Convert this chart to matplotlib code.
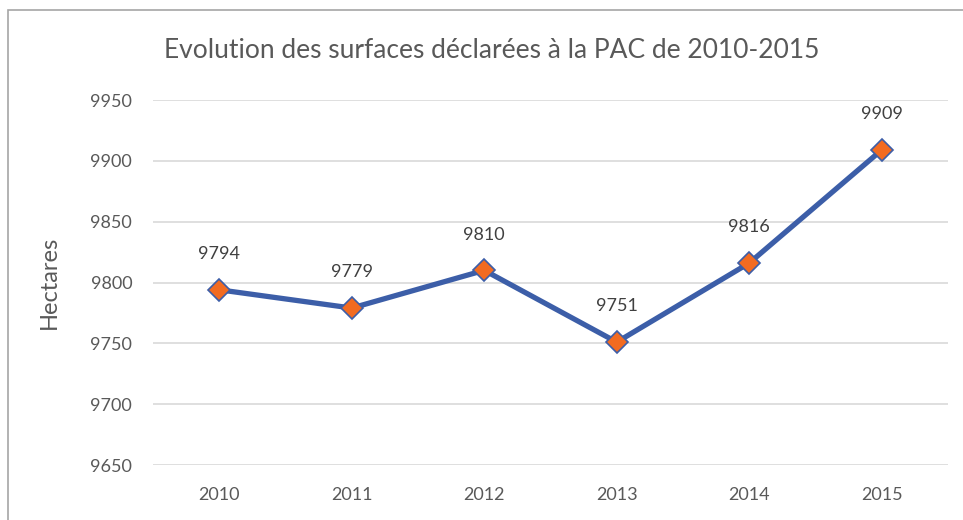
import matplotlib.pyplot as plt
from matplotlib.patches import Rectangle

# data
years = ["2010", "2011", "2012", "2013", "2014", "2015"]
surfaces = [9794, 9779, 9810, 9751, 9816, 9909]
yticks = [9650, 9700, 9750, 9800, 9850, 9900, 9950]

txt_col = "#595959"
plt.rcParams['font.family'] = ['Lato', 'DejaVu Sans']

fig = plt.figure(figsize=(9.63, 5.2), dpi=100)
ax = fig.add_axes([153 / 963, 1 - 465 / 520, (948 - 153) / 963, (465 - 100) / 520])

# cadre du graphique
fig.patches.append(Rectangle((8 / 963, -0.05), 1.0, 1 - 10 / 520 + 0.05,
                             transform=fig.transFigure, fill=False,
                             edgecolor="#a6a6a6", linewidth=1.2))

x = list(range(len(years)))
ax.plot(x, surfaces, color="#3c5ea8", linewidth=3.8, zorder=3,
        marker="D", markersize=11, markerfacecolor="#f26b21",
        markeredgecolor="#3c5ea8", markeredgewidth=1.2)

for xi, v in zip(x, surfaces):
    ax.annotate(str(v), (xi, v), xytext=(0, 20), textcoords="offset points",
                ha="center", va="bottom", fontsize=13, color="#404040")

ax.set_ylim(9650, 9950)
ax.set_xlim(-0.5, 5.5)
ax.set_yticks(yticks)
ax.set_xticks(x)
ax.set_xticklabels(years)
ax.grid(axis="y", color="#d9d9d9", linewidth=1.2)
ax.set_axisbelow(True)
for s in ax.spines.values():
    s.set_visible(False)
ax.tick_params(length=0, labelsize=13, colors=txt_col)
ax.tick_params(axis="y", pad=15)
ax.tick_params(axis="x", pad=16)
ax.set_ylabel("Hectares", fontsize=17, color=txt_col)
ax.yaxis.set_label_coords((60 - 153) / 795, 0.5)

fig.text(492 / 963, 1 - 50 / 520, "Evolution des surfaces déclarées à la PAC de 2010-2015",
         ha="center", va="center", fontsize=19, color=txt_col)

fig.savefig("out.png", dpi=100)
